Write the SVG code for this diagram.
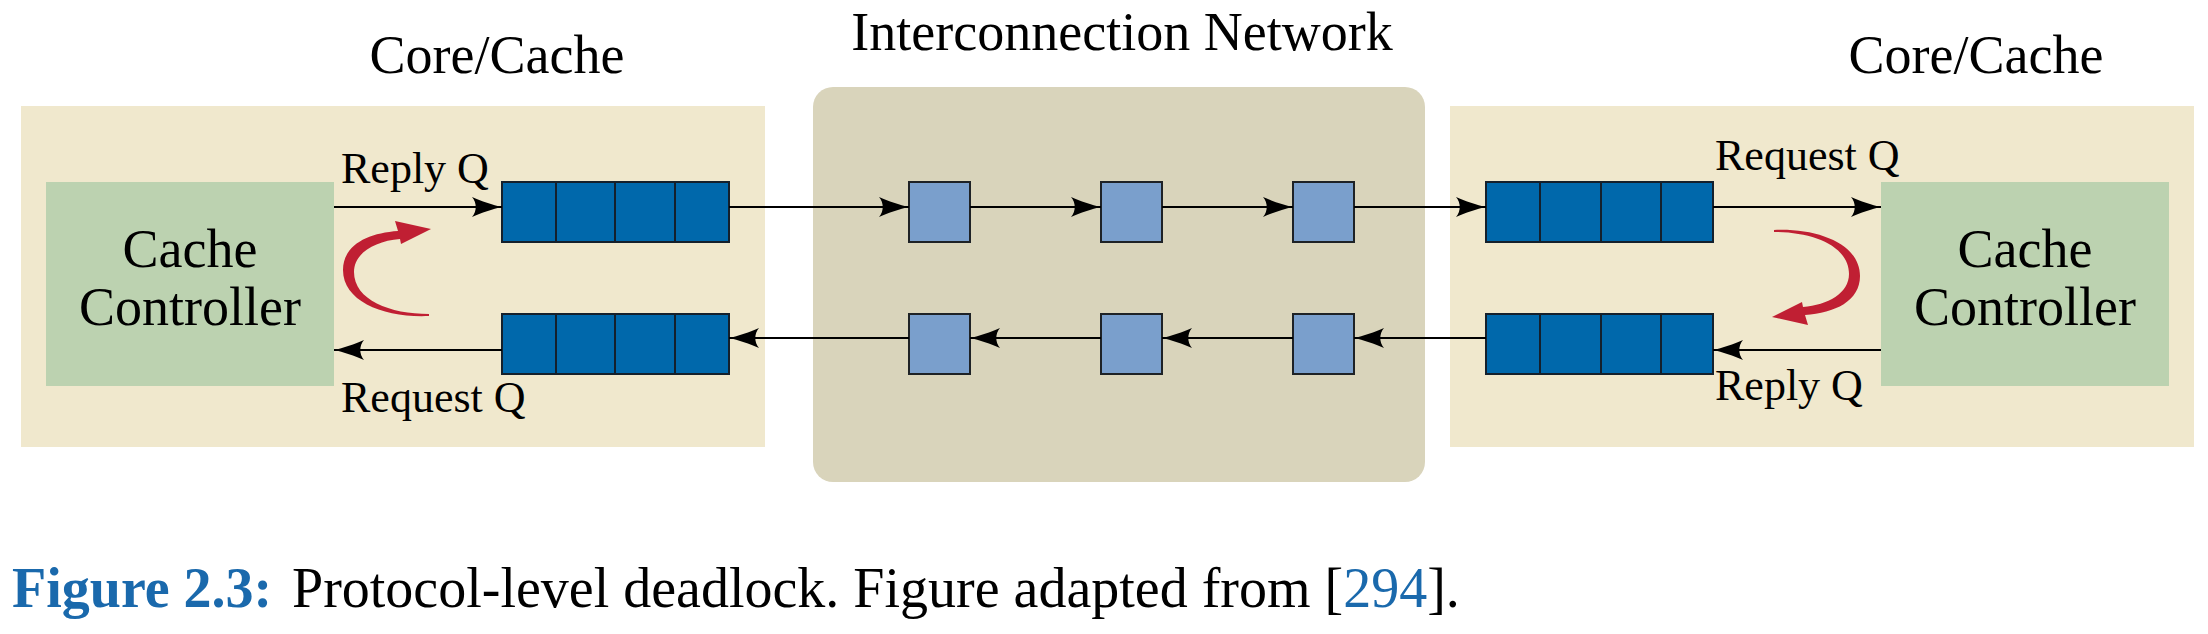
<svg xmlns="http://www.w3.org/2000/svg" width="2208" height="634" viewBox="0 0 2208 634">
<style>
.panel{fill:#f0e8cd}
.net{fill:#d9d4bb}
.ctrl{fill:#bcd2b0}
.qcell{fill:#0068ab;stroke:#14202c;stroke-width:2}
.router{fill:#7a9fcc;stroke:#1e2226;stroke-width:2}
.lbl{font-family:"Liberation Serif","Times New Roman",serif;fill:#000}
.title{font-size:54px}
.q{font-size:44px}
.cc{font-size:54px}
.conn{stroke:#000;stroke-width:1.8;fill:none;marker-end:url(#ah)}
.loop{fill:#c01f33}
.cap{font-family:"Liberation Serif","Times New Roman",serif;font-size:56px}
</style>
<defs>
<marker id="ah" markerUnits="userSpaceOnUse" markerWidth="32" markerHeight="22" viewBox="0 0 32 22" refX="31" refY="11" orient="auto">
<path d="M31,11 C22,9 10,5 1,1 C6,7 6,15 1,21 C10,17 22,13 31,11 Z" fill="#000"/>
</marker>
<path id="loopShape" d="M429,316 C385,318 343,302 343,270 C343,245 368,233 398,231 L395,221 L431,229 L401,244 L400,239 C375,241 354,253 354,272 C354,300 390,314 429,314 Z"/>
</defs>
<rect width="2208" height="634" fill="#fff"/>

<g id="left-core">
<rect class="panel" x="21" y="106" width="744" height="341"/>
<text class="lbl title" x="497" y="73" text-anchor="middle">Core/Cache</text>
</g>
<g id="network">
<rect class="net" x="813" y="87" width="612" height="395" rx="20" ry="20"/>
<text class="lbl title" x="1122" y="50" text-anchor="middle">Interconnection Network</text>
</g>
<g id="right-core">
<rect class="panel" x="1450" y="106" width="744" height="341"/>
<text class="lbl title" x="1976" y="73" text-anchor="middle">Core/Cache</text>
</g>

<g id="left-controller">
<rect class="ctrl" x="46" y="182" width="288" height="204"/>
<text class="lbl cc" x="190" y="267" text-anchor="middle">Cache</text>
<text class="lbl cc" x="190" y="325" text-anchor="middle">Controller</text>
</g>
<g id="right-controller">
<rect class="ctrl" x="1881" y="182" width="288" height="204"/>
<text class="lbl cc" x="2025" y="267" text-anchor="middle">Cache</text>
<text class="lbl cc" x="2025" y="325" text-anchor="middle">Controller</text>
</g>

<g id="left-reply-queue">
<rect class="qcell" x="502" y="182" width="54" height="60"/>
<rect class="qcell" x="556" y="182" width="59" height="60"/>
<rect class="qcell" x="615" y="182" width="60" height="60"/>
<rect class="qcell" x="675" y="182" width="54" height="60"/>
<text class="lbl q" x="341" y="183">Reply Q</text>
</g>
<g id="left-request-queue">
<rect class="qcell" x="502" y="314" width="54" height="60"/>
<rect class="qcell" x="556" y="314" width="59" height="60"/>
<rect class="qcell" x="615" y="314" width="60" height="60"/>
<rect class="qcell" x="675" y="314" width="54" height="60"/>
<text class="lbl q" x="341" y="412">Request Q</text>
</g>
<g id="right-request-queue">
<rect class="qcell" x="1486" y="182" width="54" height="60"/>
<rect class="qcell" x="1540" y="182" width="61" height="60"/>
<rect class="qcell" x="1601" y="182" width="60" height="60"/>
<rect class="qcell" x="1661" y="182" width="52" height="60"/>
<text class="lbl q" x="1715" y="170">Request Q</text>
</g>
<g id="right-reply-queue">
<rect class="qcell" x="1486" y="314" width="54" height="60"/>
<rect class="qcell" x="1540" y="314" width="61" height="60"/>
<rect class="qcell" x="1601" y="314" width="60" height="60"/>
<rect class="qcell" x="1661" y="314" width="52" height="60"/>
<text class="lbl q" x="1715" y="400">Reply Q</text>
</g>

<g id="router-top-1"><rect class="router" x="909" y="182" width="61" height="60"/></g>
<g id="router-top-2"><rect class="router" x="1101" y="182" width="61" height="60"/></g>
<g id="router-top-3"><rect class="router" x="1293" y="182" width="61" height="60"/></g>
<g id="router-bot-1"><rect class="router" x="909" y="314" width="61" height="60"/></g>
<g id="router-bot-2"><rect class="router" x="1101" y="314" width="61" height="60"/></g>
<g id="router-bot-3"><rect class="router" x="1293" y="314" width="61" height="60"/></g>

<g id="connectors">
<line class="conn" x1="334" y1="207" x2="502" y2="207"/>
<line class="conn" x1="502" y1="350" x2="334" y2="350"/>
<line class="conn" x1="729" y1="207" x2="909" y2="207"/>
<line class="conn" x1="970" y1="207" x2="1101" y2="207"/>
<line class="conn" x1="1162" y1="207" x2="1293" y2="207"/>
<line class="conn" x1="1354" y1="207" x2="1486" y2="207"/>
<line class="conn" x1="1713" y1="207" x2="1881" y2="207"/>
<line class="conn" x1="1881" y1="350" x2="1713" y2="350"/>
<line class="conn" x1="1486" y1="338" x2="1354" y2="338"/>
<line class="conn" x1="1293" y1="338" x2="1162" y2="338"/>
<line class="conn" x1="1101" y1="338" x2="970" y2="338"/>
<line class="conn" x1="909" y1="338" x2="729" y2="338"/>
<use class="loop" href="#loopShape"/>
<use class="loop" href="#loopShape" transform="translate(2203,546) rotate(180)"/>
</g>

<g id="caption">
<text class="cap" x="12" y="607" fill="#1a69ac" font-weight="bold">Figure 2.3:</text>
<text class="cap" x="292" y="607" fill="#000">Protocol-level deadlock. Figure adapted from [<tspan fill="#1a69ac">294</tspan>].</text>
</g>
</svg>
